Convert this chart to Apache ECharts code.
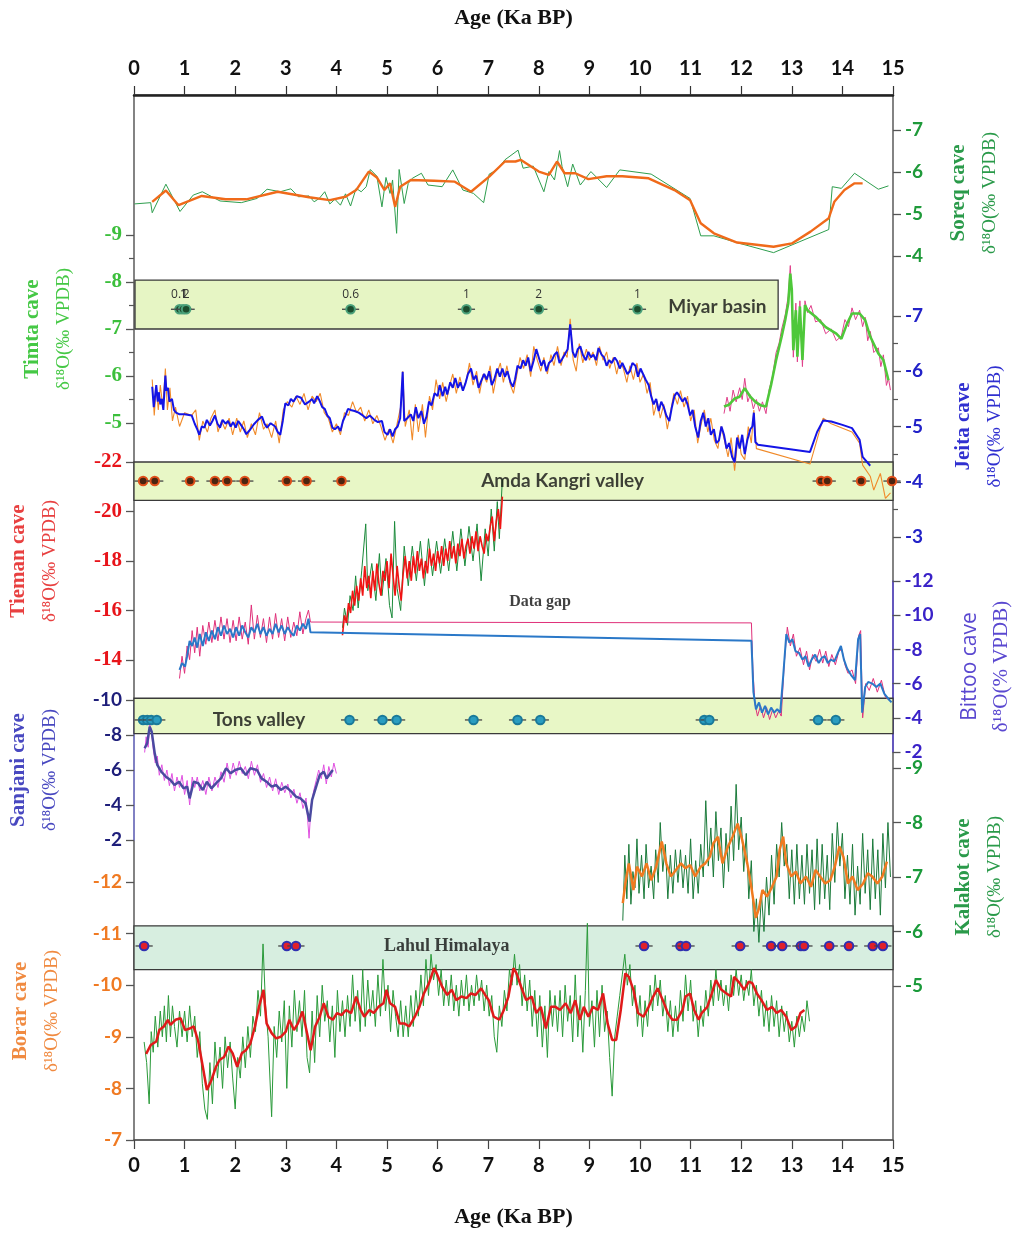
<!DOCTYPE html>
<html><head><meta charset="utf-8">
<script src="https://cdn.jsdelivr.net/npm/echarts@6/dist/echarts.min.js"></script>
<style>html,body{margin:0;padding:0;background:#fff}#c{width:1020px;height:1233px}</style>
</head><body><div id="c"></div>
<script>
// ---------------- DATA ----------------
const soreqRaw = [[0.01,-5.24],[0.33,-5.27],[0.36,-5.03],[0.63,-5.71],[0.91,-5.06],[1.17,-5.45],[1.35,-5.53],[1.70,-5.31],[2.12,-5.27],[2.43,-5.37],[2.63,-5.59],[2.89,-5.53],[3.10,-5.60],[3.25,-5.41],[3.46,-5.43],[3.56,-5.29],[3.66,-5.37],[3.77,-5.53],[3.87,-5.24],[3.97,-5.35],[4.08,-5.21],[4.18,-5.48],[4.28,-5.19],[4.39,-5.61],[4.49,-5.53],[4.59,-5.65],[4.67,-6.06],[4.80,-5.90],[4.90,-5.17],[4.98,-5.87],[5.06,-5.49],[5.11,-5.81],[5.19,-4.54],[5.24,-6.06],[5.34,-5.25],[5.42,-5.73],[5.50,-5.85],[5.68,-5.97],[5.81,-5.69],[6.09,-5.65],[6.30,-6.05],[6.50,-5.57],[6.71,-5.49],[6.91,-5.27],[7.02,-5.95],[7.17,-6.05],[7.33,-6.29],[7.59,-6.52],[7.69,-6.09],[7.89,-6.14],[8.10,-5.53],[8.20,-6.01],[8.31,-5.81],[8.41,-6.51],[8.46,-6.13],[8.57,-5.65],[8.67,-6.19],[8.82,-5.69],[9.03,-6.01],[9.34,-5.63],[9.60,-6.05],[10.22,-5.95],[10.99,-5.37],[11.20,-4.48],[11.46,-4.48],[11.97,-4.30],[12.64,-4.08],[13.73,-4.63],[13.80,-5.65],[13.98,-5.61],[14.24,-5.97],[14.71,-5.59],[14.91,-5.67]];
const soreqSmooth = [[0.36,-5.29],[0.63,-5.56],[0.88,-5.21],[1.34,-5.43],[1.81,-5.35],[2.22,-5.35],[2.84,-5.53],[3.46,-5.40],[3.87,-5.33],[4.18,-5.41],[4.39,-5.57],[4.64,-6.01],[4.80,-5.87],[4.95,-5.57],[5.06,-5.73],[5.16,-5.17],[5.26,-5.65],[5.47,-5.81],[5.93,-5.79],[6.34,-5.77],[6.66,-5.53],[7.02,-5.89],[7.33,-6.25],[7.54,-6.25],[7.64,-6.29],[8.00,-6.01],[8.20,-5.93],[8.36,-6.25],[8.51,-5.97],[8.72,-5.97],[8.98,-5.83],[9.34,-5.90],[9.65,-5.90],[10.17,-5.85],[10.68,-5.57],[10.99,-5.33],[11.20,-4.78],[11.46,-4.54],[11.92,-4.32],[12.64,-4.22],[13.00,-4.30],[13.37,-4.58],[13.73,-4.90],[13.84,-5.29],[14.04,-5.57],[14.24,-5.73],[14.40,-5.73]];

const timtaMain = [[11.66,-5.35],[11.76,-5.39],[11.87,-5.52],[11.97,-5.56],[12.07,-5.74],[12.18,-5.56],[12.28,-5.45],[12.38,-5.38],[12.49,-5.35],[12.59,-5.81],[12.69,-6.34],[12.80,-6.84],[12.87,-7.19],[12.93,-7.55],[12.97,-8.18],[13.00,-7.83],[13.03,-6.55],[13.08,-7.40],[13.11,-6.41],[13.16,-7.48],[13.21,-6.34],[13.26,-7.51],[13.31,-7.40],[13.47,-7.26],[13.67,-7.04],[13.88,-6.90],[13.98,-6.79],[14.09,-7.11],[14.19,-7.33],[14.34,-7.33],[14.45,-7.19],[14.55,-6.84],[14.71,-6.48],[14.81,-6.34],[14.91,-5.91]];
const timtaRaw = [[11.66,-5.2],[11.72,-5.55],[11.78,-5.25],[11.84,-5.7],[11.9,-5.45],[11.97,-5.75],[12.02,-5.5],[12.07,-5.95],[12.13,-5.45],[12.18,-5.6],[12.24,-5.3],[12.3,-5.5],[12.36,-5.25],[12.42,-5.45],[12.49,-5.2],[12.55,-5.7],[12.62,-6.0],[12.69,-6.5],[12.75,-6.7],[12.8,-7.0],[12.87,-7.3],[12.93,-7.7],[12.97,-8.35],[13.0,-7.7],[13.03,-6.4],[13.08,-7.55],[13.11,-6.3],[13.16,-7.6],[13.21,-6.2],[13.26,-7.6],[13.31,-7.35],[13.38,-7.5],[13.47,-7.15],[13.57,-7.2],[13.67,-6.9],[13.78,-7.0],[13.88,-6.75],[13.98,-6.85],[14.05,-7.2],[14.12,-7.05],[14.19,-7.45],[14.26,-7.2],[14.34,-7.4],[14.4,-7.05],[14.45,-7.25],[14.5,-6.75],[14.55,-6.95],[14.62,-6.5],[14.71,-6.6],[14.76,-6.2],[14.81,-6.45],[14.87,-5.8],[14.91,-5.95],[14.95,-5.7]];

const jeitaMain = [[0.36,-5.72],[0.39,-5.35],[0.41,-5.5],[0.44,-5.75],[0.47,-5.45],[0.49,-5.62],[0.52,-5.4],[0.55,-5.5],[0.58,-5.3],[0.62,-5.92],[0.64,-5.65],[0.67,-5.7],[0.7,-5.45],[0.75,-5.5],[0.79,-5.3],[0.83,-5.25],[0.9,-5.22],[1.0,-5.22],[1.14,-5.2],[1.2,-5.05],[1.25,-4.95],[1.29,-4.85],[1.34,-5.0],[1.39,-4.98],[1.44,-5.12],[1.5,-5.02],[1.55,-5.1],[1.6,-5.2],[1.65,-5.05],[1.7,-4.98],[1.75,-5.12],[1.81,-5.05],[1.86,-5.1],[1.91,-5.0],[1.96,-5.08],[2.01,-4.98],[2.06,-5.1],[2.12,-5.02],[2.17,-4.95],[2.22,-4.86],[2.3,-4.95],[2.37,-5.04],[2.45,-5.12],[2.53,-5.18],[2.58,-5.05],[2.63,-4.98],[2.7,-5.06],[2.79,-5.0],[2.84,-4.9],[2.89,-4.85],[2.94,-5.1],[2.99,-5.42],[3.05,-5.38],[3.1,-5.5],[3.15,-5.45],[3.22,-5.55],[3.3,-5.52],[3.38,-5.4],[3.46,-5.45],[3.52,-5.5],[3.56,-5.42],[3.62,-5.55],[3.66,-5.48],[3.72,-5.35],[3.77,-5.32],[3.82,-5.2],[3.87,-5.15],[3.92,-4.98],[3.97,-4.95],[4.03,-5.0],[4.08,-4.92],[4.13,-5.1],[4.18,-5.2],[4.23,-5.32],[4.28,-5.3],[4.36,-5.28],[4.44,-5.25],[4.52,-5.2],[4.59,-5.15],[4.66,-5.2],[4.75,-5.12],[4.82,-5.08],[4.9,-5.1],[4.95,-4.9],[5.01,-4.85],[5.06,-4.95],[5.11,-4.82],[5.16,-4.95],[5.21,-5.0],[5.26,-5.15],[5.31,-5.99],[5.34,-5.1],[5.4,-5.15],[5.47,-5.22],[5.52,-5.1],[5.57,-5.35],[5.62,-5.15],[5.68,-5.28],[5.73,-5.05],[5.78,-5.18],[5.83,-5.45],[5.88,-5.38],[5.94,-5.6],[6.0,-5.55],[6.04,-5.75],[6.1,-5.55],[6.15,-5.72],[6.19,-5.58],[6.25,-5.8],[6.3,-5.7],[6.35,-5.88],[6.4,-5.7],[6.45,-5.8],[6.5,-5.65],[6.55,-5.78],[6.6,-5.95],[6.66,-6.05],[6.71,-5.85],[6.76,-5.92],[6.81,-5.7],[6.86,-5.82],[6.92,-5.95],[6.97,-5.85],[7.02,-6.0],[7.07,-5.75],[7.12,-5.85],[7.18,-6.05],[7.23,-5.9],[7.28,-6.05],[7.33,-5.9],[7.38,-6.0],[7.44,-5.8],[7.49,-5.72],[7.53,-5.85],[7.58,-6.1],[7.64,-6.05],[7.69,-6.2],[7.74,-6.1],[7.79,-6.25],[7.84,-6.0],[7.9,-6.2],[7.95,-6.4],[8.0,-6.25],[8.05,-6.1],[8.1,-6.2],[8.15,-6.0],[8.2,-6.15],[8.26,-6.2],[8.31,-6.3],[8.36,-6.35],[8.41,-6.15],[8.46,-6.22],[8.51,-6.3],[8.57,-6.4],[8.62,-6.85],[8.67,-6.35],[8.72,-6.25],[8.77,-6.4],[8.82,-6.45],[8.87,-6.3],[8.93,-6.2],[8.98,-6.35],[9.03,-6.25],[9.08,-6.3],[9.13,-6.2],[9.18,-6.42],[9.24,-6.3],[9.29,-6.25],[9.34,-6.1],[9.39,-6.2],[9.44,-6.15],[9.5,-6.25],[9.55,-6.18],[9.6,-6.05],[9.65,-6.15],[9.7,-6.05],[9.75,-5.95],[9.8,-6.0],[9.85,-6.15],[9.91,-6.1],[9.96,-5.9],[10.01,-6.05],[10.06,-5.95],[10.11,-5.85],[10.17,-5.75],[10.22,-5.55],[10.27,-5.4],[10.32,-5.5],[10.37,-5.28],[10.42,-5.45],[10.47,-5.35],[10.52,-5.2],[10.58,-5.1],[10.63,-5.35],[10.68,-5.55],[10.73,-5.62],[10.78,-5.55],[10.84,-5.45],[10.89,-5.52],[10.94,-5.4],[10.99,-5.2],[11.04,-5.3],[11.09,-5.0],[11.15,-4.8],[11.2,-5.1],[11.25,-5.25],[11.3,-5.0],[11.35,-5.15],[11.4,-4.85],[11.46,-4.95],[11.51,-4.7],[11.56,-4.75],[11.61,-5.0],[11.66,-4.85],[11.71,-4.6],[11.76,-4.7],[11.82,-4.45],[11.87,-4.35],[11.92,-4.8],[11.97,-4.6],[12.02,-4.85],[12.07,-4.5],[12.12,-4.75],[12.18,-4.95],[12.22,-5.0],[12.25,-5.25],[12.28,-4.72],[12.33,-4.67],[13.36,-4.54],[13.5,-4.9],[13.62,-5.11],[13.78,-5.09],[14.0,-5.03],[14.19,-4.97],[14.34,-4.76],[14.40,-4.45],[14.55,-4.29]];
const jeitaRaw = [[0.36,-5.85],[0.40,-5.2],[0.44,-5.7],[0.48,-5.3],[0.52,-5.75],[0.57,-5.35],[0.62,-6.05],[0.66,-5.3],[0.71,-5.7],[0.76,-5.1],[0.82,-5.35],[0.9,-5.0],[1.0,-5.25],[1.14,-5.2],[1.22,-5.3],[1.29,-4.75],[1.36,-5.1],[1.45,-4.9],[1.52,-5.15],[1.6,-5.3],[1.66,-4.9],[1.73,-5.1],[1.8,-4.95],[1.88,-5.15],[1.95,-4.85],[2.03,-5.15],[2.1,-4.9],[2.17,-5.1],[2.24,-4.8],[2.32,-5.05],[2.4,-4.85],[2.48,-5.25],[2.56,-4.95],[2.63,-5.05],[2.72,-4.8],[2.8,-5.1],[2.87,-4.7],[2.95,-5.3],[3.03,-5.45],[3.12,-5.35],[3.2,-5.55],[3.28,-5.4],[3.36,-5.6],[3.44,-5.3],[3.52,-5.55],[3.6,-5.45],[3.68,-5.6],[3.76,-5.25],[3.84,-5.15],[3.92,-4.9],[4.0,-5.05],[4.08,-4.85],[4.16,-5.25],[4.24,-5.2],[4.32,-5.45],[4.4,-5.25],[4.48,-5.35],[4.56,-5.1],[4.64,-5.3],[4.72,-5.05],[4.8,-5.2],[4.88,-5.0],[4.96,-4.75],[5.04,-4.95],[5.12,-4.7],[5.2,-5.05],[5.28,-5.4],[5.31,-6.0],[5.36,-5.0],[5.44,-5.3],[5.5,-4.75],[5.56,-5.4],[5.62,-4.9],[5.7,-5.4],[5.76,-4.8],[5.84,-5.55],[5.9,-5.3],[5.97,-5.85],[6.04,-5.5],[6.1,-5.8],[6.17,-5.45],[6.24,-5.75],[6.3,-5.95],[6.37,-5.6],[6.44,-5.9],[6.5,-5.65],[6.57,-5.85],[6.63,-6.15],[6.7,-5.75],[6.77,-6.0],[6.83,-5.6],[6.9,-5.95],[6.97,-5.8],[7.04,-6.1],[7.1,-5.6],[7.17,-5.95],[7.24,-6.15],[7.3,-5.8],[7.37,-6.1],[7.44,-5.75],[7.5,-5.6],[7.57,-5.95],[7.63,-6.25],[7.7,-6.05],[7.77,-6.3],[7.84,-5.9],[7.9,-6.45],[7.97,-6.2],[8.04,-6.0],[8.1,-6.25],[8.17,-5.95],[8.24,-6.3],[8.3,-6.1],[8.37,-6.45],[8.44,-6.1],[8.5,-6.35],[8.56,-6.25],[8.62,-6.95],[8.68,-6.2],[8.74,-6.0],[8.8,-6.5],[8.87,-6.15],[8.94,-6.4],[9.0,-6.2],[9.07,-6.35],[9.14,-6.1],[9.2,-6.45],[9.27,-6.2],[9.34,-6.35],[9.4,-6.05],[9.47,-6.25],[9.54,-5.95],[9.6,-6.2],[9.67,-6.05],[9.74,-5.8],[9.8,-6.1],[9.87,-5.85],[9.94,-6.15],[10.0,-5.8],[10.07,-5.95],[10.14,-5.6],[10.2,-5.8],[10.27,-5.2],[10.34,-5.45],[10.4,-5.15],[10.47,-5.4],[10.54,-4.95],[10.6,-5.25],[10.67,-5.6],[10.74,-5.4],[10.8,-5.65],[10.87,-5.35],[10.94,-5.55],[11.0,-5.1],[11.07,-5.3],[11.14,-4.7],[11.2,-5.0],[11.27,-5.3],[11.34,-4.9],[11.4,-5.15],[11.47,-4.75],[11.54,-4.6],[11.6,-5.0],[11.67,-4.75],[11.74,-4.45],[11.8,-4.8],[11.87,-4.2],[11.94,-4.85],[12.0,-4.5],[12.07,-4.4],[12.14,-5.0],[12.2,-4.7],[12.25,-5.3],[12.3,-4.6],[13.36,-4.32],[13.62,-5.15],[13.78,-5.05],[14.19,-4.9],[14.34,-4.7],[14.4,-4.3],[14.55,-4.1],[14.62,-3.85],[14.75,-4.15],[14.85,-3.7],[14.95,-3.8]];

const tiemanMain = [[4.12,-15.0],[4.16,-15.8],[4.2,-15.5],[4.24,-16.3],[4.28,-15.9],[4.32,-16.8],[4.36,-16.2],[4.4,-17.0],[4.44,-16.4],[4.48,-17.3],[4.52,-16.6],[4.56,-17.8],[4.6,-16.9],[4.64,-17.4],[4.68,-16.5],[4.72,-17.6],[4.76,-16.8],[4.8,-17.9],[4.84,-17.1],[4.88,-16.6],[4.92,-17.6],[4.96,-17.2],[5.0,-18.0],[5.04,-16.9],[5.08,-18.3],[5.12,-17.4],[5.16,-16.6],[5.2,-17.8],[5.24,-17.0],[5.28,-16.4],[5.32,-17.5],[5.36,-18.2],[5.4,-17.3],[5.44,-18.0],[5.48,-17.2],[5.52,-18.2],[5.56,-17.5],[5.6,-18.4],[5.64,-17.6],[5.68,-18.1],[5.72,-17.3],[5.76,-18.0],[5.8,-17.5],[5.84,-18.5],[5.88,-17.8],[5.92,-18.3],[5.96,-17.6],[6.0,-18.4],[6.04,-17.9],[6.08,-18.6],[6.12,-17.8],[6.16,-18.5],[6.2,-18.0],[6.24,-18.8],[6.28,-18.1],[6.32,-18.6],[6.36,-17.9],[6.4,-18.7],[6.44,-18.2],[6.48,-18.9],[6.52,-18.1],[6.56,-18.6],[6.6,-18.9],[6.64,-18.3],[6.68,-19.0],[6.72,-18.5],[6.76,-19.2],[6.8,-18.4],[6.84,-19.0],[6.88,-18.6],[6.92,-18.3],[6.96,-19.1],[7.0,-18.8],[7.04,-19.4],[7.08,-19.8],[7.12,-18.8],[7.16,-19.6],[7.2,-20.1],[7.24,-19.3],[7.28,-20.6]];
const tiemanRaw = [[4.12,-15.3],[4.16,-16.1],[4.22,-15.4],[4.27,-16.6],[4.33,-16.0],[4.38,-17.4],[4.43,-16.1],[4.5,-17.6],[4.58,-19.5],[4.62,-16.8],[4.7,-17.9],[4.78,-16.4],[4.85,-18.3],[4.9,-16.6],[4.98,-18.1],[5.05,-16.2],[5.1,-15.7],[5.15,-19.6],[5.2,-16.9],[5.27,-16.0],[5.34,-18.6],[5.42,-17.0],[5.5,-18.6],[5.58,-17.2],[5.66,-18.8],[5.74,-17.0],[5.82,-18.9],[5.9,-17.4],[5.98,-18.8],[6.06,-17.5],[6.14,-18.9],[6.22,-17.6],[6.3,-19.2],[6.38,-17.6],[6.46,-19.3],[6.54,-17.8],[6.62,-19.4],[6.7,-18.0],[6.78,-19.5],[6.86,-17.2],[6.94,-19.3],[7.0,-18.2],[7.06,-20.1],[7.12,-18.4],[7.18,-20.4],[7.22,-18.9],[7.28,-21.3]];

const bittooMain = [[0.90,-6.8],[0.95,-7.2],[1.01,-7.0],[1.05,-7.6],[1.1,-8.5],[1.15,-8.2],[1.2,-8.7],[1.25,-8.1],[1.3,-8.9],[1.36,-8.2],[1.42,-9.0],[1.48,-8.5],[1.54,-9.1],[1.6,-8.6],[1.66,-9.3],[1.72,-8.8],[1.78,-9.4],[1.84,-8.9],[1.9,-9.2],[1.96,-8.7],[2.02,-9.3],[2.08,-8.8],[2.14,-9.4],[2.2,-9.0],[2.26,-8.7],[2.32,-9.3],[2.38,-9.0],[2.44,-9.5],[2.5,-8.9],[2.56,-9.3],[2.62,-8.8],[2.68,-9.2],[2.74,-8.9],[2.8,-9.5],[2.86,-9.0],[2.92,-9.4],[2.98,-8.9],[3.04,-9.3],[3.1,-9.0],[3.16,-8.8],[3.22,-9.4],[3.28,-9.1],[3.34,-9.5],[3.4,-9.2],[3.45,-9.8],[3.49,-9.0],[12.21,-8.5],[12.25,-5.5],[12.3,-4.5],[12.36,-4.9],[12.42,-4.3],[12.48,-4.7],[12.54,-4.2],[12.6,-4.6],[12.66,-4.3],[12.72,-4.5],[12.78,-4.3],[12.84,-6.5],[12.9,-8.9],[12.96,-8.4],[13.02,-8.6],[13.08,-7.9],[13.15,-7.8],[13.22,-7.4],[13.28,-7.6],[13.34,-7.0],[13.4,-7.4],[13.47,-7.7],[13.54,-7.2],[13.6,-7.5],[13.66,-7.6],[13.72,-7.2],[13.78,-7.4],[13.85,-7.3],[13.92,-7.8],[13.98,-8.2],[14.04,-7.4],[14.1,-6.9],[14.18,-6.5],[14.26,-6.2],[14.32,-8.6],[14.36,-8.9],[14.4,-4.3],[14.46,-5.8],[14.52,-6.1],[14.6,-6.0],[14.68,-5.8],[14.76,-6.0],[14.84,-5.4],[14.92,-5.1],[14.98,-4.9]];
const bittooRaw = [[0.90,-6.3],[0.95,-7.6],[1.0,-6.6],[1.05,-8.2],[1.1,-7.4],[1.15,-9.1],[1.2,-7.8],[1.25,-9.3],[1.3,-7.6],[1.36,-9.4],[1.42,-8.3],[1.48,-9.6],[1.54,-8.4],[1.6,-9.7],[1.66,-8.5],[1.72,-9.9],[1.78,-8.6],[1.84,-9.8],[1.9,-8.4],[1.96,-9.7],[2.02,-8.5],[2.08,-9.9],[2.14,-8.6],[2.2,-9.6],[2.26,-8.3],[2.32,-10.6],[2.38,-8.6],[2.44,-10.0],[2.5,-8.7],[2.56,-9.8],[2.62,-8.4],[2.68,-9.9],[2.74,-8.6],[2.8,-10.1],[2.86,-8.7],[2.92,-9.8],[2.98,-8.5],[3.04,-9.9],[3.1,-8.7],[3.16,-9.6],[3.22,-8.8],[3.28,-10.2],[3.34,-8.9],[3.4,-9.8],[3.45,-10.3],[3.49,-9.6],[12.21,-9.55],[12.24,-6.8],[12.28,-4.8],[12.33,-4.1],[12.39,-4.7],[12.45,-4.0],[12.51,-4.6],[12.57,-3.9],[12.63,-4.5],[12.69,-4.0],[12.75,-4.4],[12.8,-4.1],[12.86,-7.2],[12.92,-9.3],[12.98,-8.2],[13.04,-8.9],[13.1,-7.6],[13.17,-8.1],[13.24,-7.1],[13.3,-7.9],[13.36,-6.8],[13.42,-7.7],[13.49,-7.3],[13.56,-8.0],[13.62,-7.2],[13.68,-7.9],[13.74,-7.0],[13.8,-7.7],[13.87,-7.1],[13.94,-7.9],[14.0,-8.0],[14.06,-7.1],[14.12,-6.6],[14.2,-6.8],[14.27,-6.0],[14.33,-8.8],[14.37,-9.1],[14.41,-4.0],[14.47,-6.0],[14.54,-5.6],[14.62,-6.3],[14.7,-5.5],[14.78,-6.2],[14.86,-5.2],[14.95,-5.0]];

const sanjaniMain = [[0.21,-7.24],[0.26,-7.52],[0.31,-8.48],[0.35,-8.19],[0.41,-6.95],[0.46,-6.29],[0.54,-5.90],[0.63,-5.62],[0.72,-5.43],[0.80,-5.14],[0.89,-5.33],[0.98,-4.95],[1.05,-5.05],[1.10,-4.38],[1.18,-5.33],[1.27,-5.24],[1.36,-4.86],[1.44,-5.33],[1.53,-4.95],[1.62,-5.24],[1.72,-5.52],[1.82,-6.10],[1.91,-5.81],[2.00,-6.00],[2.11,-6.10],[2.21,-5.71],[2.30,-6.10],[2.43,-6.00],[2.52,-5.52],[2.62,-5.33],[2.72,-5.05],[2.81,-5.14],[2.90,-4.86],[3.00,-5.05],[3.11,-4.76],[3.20,-4.48],[3.29,-4.38],[3.39,-4.10],[3.47,-3.05],[3.52,-4.29],[3.60,-5.05],[3.67,-5.71],[3.75,-5.90],[3.81,-5.52],[3.88,-5.81],[3.93,-6.00]];
const sanjaniRaw = [[0.21,-7.0],[0.24,-7.9],[0.28,-7.3],[0.31,-8.6],[0.34,-8.3],[0.38,-7.2],[0.42,-6.4],[0.46,-6.8],[0.5,-5.7],[0.55,-6.3],[0.6,-5.4],[0.65,-6.0],[0.7,-5.1],[0.75,-5.8],[0.8,-4.8],[0.85,-5.6],[0.9,-5.0],[0.95,-5.7],[1.0,-4.6],[1.05,-5.4],[1.1,-4.0],[1.15,-5.6],[1.2,-5.0],[1.25,-5.6],[1.3,-4.8],[1.36,-5.4],[1.42,-4.6],[1.48,-5.6],[1.54,-4.8],[1.6,-5.6],[1.66,-5.0],[1.72,-5.9],[1.78,-5.3],[1.84,-6.4],[1.9,-5.5],[1.96,-6.4],[2.02,-5.7],[2.08,-6.5],[2.14,-5.8],[2.2,-6.2],[2.26,-5.5],[2.32,-6.5],[2.38,-5.7],[2.44,-6.3],[2.5,-5.3],[2.56,-5.8],[2.62,-5.0],[2.68,-5.6],[2.74,-4.8],[2.8,-5.5],[2.86,-4.6],[2.92,-5.3],[2.98,-4.7],[3.04,-5.2],[3.1,-4.4],[3.16,-4.9],[3.22,-4.1],[3.28,-4.7],[3.34,-3.8],[3.4,-4.4],[3.46,-2.1],[3.5,-4.0],[3.55,-4.8],[3.6,-5.4],[3.65,-6.0],[3.7,-5.5],[3.75,-6.3],[3.8,-5.2],[3.85,-6.2],[3.9,-5.6],[3.95,-6.4],[4.0,-5.8]];

const kalakotMain = [[9.66,-6.52],[9.71,-6.88],[9.78,-7.25],[9.87,-6.76],[9.94,-7.19],[10.04,-7.01],[10.13,-7.25],[10.22,-6.94],[10.32,-7.19],[10.43,-7.65],[10.52,-7.25],[10.61,-7.01],[10.71,-7.13],[10.81,-7.25],[10.90,-7.16],[10.99,-7.22],[11.09,-7.01],[11.20,-7.19],[11.29,-7.25],[11.38,-7.37],[11.45,-7.62],[11.54,-7.74],[11.63,-7.25],[11.74,-7.56],[11.83,-7.74],[11.93,-7.98],[12.02,-7.68],[12.12,-7.25],[12.21,-6.76],[12.29,-6.25],[12.35,-6.42],[12.42,-6.76],[12.51,-6.64],[12.61,-6.82],[12.70,-7.01],[12.76,-7.50],[12.83,-7.74],[12.89,-7.25],[12.99,-7.01],[13.08,-7.10],[13.17,-6.88],[13.28,-7.01],[13.38,-6.82],[13.47,-7.13],[13.56,-7.01],[13.66,-6.88],[13.76,-6.94],[13.85,-7.19],[13.94,-7.56],[14.02,-7.37],[14.11,-6.88],[14.20,-7.01],[14.30,-6.76],[14.41,-6.88],[14.50,-7.07],[14.59,-7.01],[14.69,-6.88],[14.79,-7.01],[14.88,-7.28]];
const kalakotRaw = [[9.66,-6.2],[9.7,-7.4],[9.74,-6.6],[9.78,-7.6],[9.82,-6.5],[9.86,-7.1],[9.9,-6.8],[9.94,-7.7],[9.98,-6.7],[10.03,-7.4],[10.08,-6.6],[10.12,-7.6],[10.17,-6.8],[10.22,-7.2],[10.27,-6.6],[10.31,-7.5],[10.36,-6.9],[10.4,-8.0],[10.45,-7.1],[10.5,-7.6],[10.55,-6.6],[10.6,-7.4],[10.65,-6.7],[10.7,-7.5],[10.75,-6.9],[10.8,-7.5],[10.85,-6.8],[10.9,-7.4],[10.95,-6.7],[11.0,-7.7],[11.05,-6.6],[11.1,-7.3],[11.15,-6.7],[11.2,-7.6],[11.25,-7.0],[11.3,-8.4],[11.35,-7.2],[11.4,-7.9],[11.45,-7.0],[11.5,-8.2],[11.55,-7.3],[11.6,-7.9],[11.65,-6.8],[11.7,-7.8],[11.75,-7.1],[11.8,-8.3],[11.85,-7.3],[11.9,-8.7],[11.95,-7.5],[12.0,-8.1],[12.05,-7.1],[12.1,-7.8],[12.15,-6.6],[12.2,-7.3],[12.25,-6.0],[12.3,-6.6],[12.35,-5.8],[12.4,-6.7],[12.45,-6.0],[12.5,-7.0],[12.55,-6.3],[12.6,-7.4],[12.65,-6.5],[12.7,-7.6],[12.75,-7.0],[12.8,-8.0],[12.85,-7.2],[12.9,-7.6],[12.95,-6.6],[13.0,-7.5],[13.05,-6.5],[13.1,-7.6],[13.15,-6.6],[13.2,-7.4],[13.25,-6.5],[13.3,-7.6],[13.35,-6.7],[13.4,-7.5],[13.45,-6.4],[13.5,-7.7],[13.55,-6.5],[13.6,-7.6],[13.65,-6.6],[13.7,-7.4],[13.75,-6.4],[13.8,-7.8],[13.85,-6.9],[13.9,-8.0],[13.95,-7.2],[14.0,-7.8],[14.05,-6.6],[14.1,-7.4],[14.15,-6.5],[14.2,-7.6],[14.25,-6.3],[14.3,-7.2],[14.35,-6.5],[14.4,-7.8],[14.45,-6.7],[14.5,-7.5],[14.55,-6.4],[14.6,-7.7],[14.65,-6.6],[14.7,-7.5],[14.75,-6.3],[14.8,-7.8],[14.85,-6.8],[14.9,-8.0],[14.95,-7.0]];

const borarMain = [[0.24,-8.67],[0.33,-8.84],[0.44,-8.91],[0.50,-9.13],[0.59,-9.20],[0.67,-9.33],[0.72,-9.23],[0.82,-9.33],[0.92,-9.36],[1.01,-9.13],[1.10,-9.16],[1.18,-9.20],[1.27,-8.91],[1.36,-8.42],[1.44,-7.97],[1.53,-8.16],[1.62,-8.42],[1.69,-8.55],[1.78,-8.61],[1.87,-8.81],[1.95,-8.68],[2.04,-8.42],[2.13,-8.68],[2.21,-8.74],[2.30,-8.87],[2.39,-9.20],[2.47,-9.58],[2.56,-9.91],[2.62,-9.26],[2.72,-9.07],[2.81,-8.97],[2.90,-9.00],[3.00,-9.10],[3.07,-9.33],[3.16,-9.13],[3.24,-9.26],[3.33,-9.49],[3.42,-9.07],[3.49,-8.74],[3.58,-9.20],[3.67,-9.39],[3.75,-9.65],[3.84,-9.39],[3.93,-9.33],[4.01,-9.46],[4.10,-9.42],[4.19,-9.52],[4.29,-9.46],[4.39,-9.78],[4.48,-9.52],[4.55,-9.39],[4.65,-9.52],[4.74,-9.46],[4.83,-9.58],[4.93,-9.65],[4.99,-9.91],[5.06,-9.65],[5.16,-9.58],[5.25,-9.26],[5.34,-9.26],[5.44,-9.20],[5.55,-9.39],[5.64,-9.58],[5.73,-9.84],[5.83,-10.04],[5.93,-10.33],[5.98,-10.23],[6.09,-9.97],[6.19,-9.81],[6.28,-9.91],[6.37,-9.71],[6.47,-9.78],[6.57,-9.75],[6.66,-9.84],[6.75,-9.81],[6.86,-9.94],[6.96,-9.78],[7.01,-9.71],[7.11,-9.39],[7.22,-9.33],[7.31,-9.52],[7.40,-9.78],[7.50,-10.33],[7.56,-10.23],[7.65,-9.97],[7.75,-9.71],[7.86,-9.78],[7.95,-9.46],[8.04,-9.58],[8.14,-9.16],[8.24,-9.58],[8.33,-9.58],[8.42,-9.52],[8.53,-9.65],[8.63,-9.46],[8.72,-9.71],[8.81,-9.33],[8.89,-9.58],[8.98,-9.39],[9.07,-9.58],[9.17,-9.52],[9.27,-9.84],[9.36,-9.26],[9.45,-8.94],[9.53,-8.94],[9.62,-9.52],[9.71,-10.23],[9.78,-10.16],[9.87,-9.91],[9.96,-9.46],[10.07,-9.39],[10.17,-9.58],[10.26,-9.78],[10.35,-9.94],[10.45,-9.71],[10.55,-9.46],[10.64,-9.33],[10.73,-9.33],[10.84,-9.52],[10.90,-9.78],[10.99,-9.84],[11.07,-9.52],[11.16,-9.33],[11.22,-9.46],[11.33,-9.58],[11.42,-9.84],[11.50,-10.10],[11.61,-9.91],[11.71,-9.84],[11.80,-9.78],[11.86,-10.16],[11.97,-10.04],[12.06,-9.91],[12.15,-10.07],[12.22,-10.04],[12.31,-9.84],[12.40,-9.71],[12.51,-9.52],[12.61,-9.58],[12.70,-9.46],[12.79,-9.52],[12.89,-9.39],[12.99,-9.13],[13.08,-9.20],[13.17,-9.46],[13.25,-9.52]];
const borarRaw = [[0.2,-8.9],[0.25,-8.5],[0.3,-7.7],[0.34,-9.1],[0.38,-8.7],[0.42,-9.4],[0.47,-8.8],[0.52,-9.5],[0.56,-9.0],[0.6,-9.6],[0.64,-8.9],[0.68,-9.8],[0.72,-9.0],[0.76,-9.6],[0.8,-9.2],[0.85,-8.8],[0.9,-9.5],[0.95,-9.0],[1.0,-9.5],[1.05,-8.9],[1.1,-9.6],[1.15,-9.0],[1.2,-9.4],[1.25,-8.6],[1.3,-9.1],[1.35,-8.1],[1.4,-7.6],[1.45,-7.4],[1.5,-8.5],[1.55,-7.7],[1.6,-8.9],[1.65,-8.2],[1.7,-8.8],[1.75,-8.0],[1.8,-9.0],[1.85,-8.4],[1.9,-8.9],[1.95,-8.2],[2.0,-7.6],[2.05,-8.6],[2.1,-8.2],[2.15,-9.0],[2.2,-8.4],[2.25,-9.2],[2.3,-8.6],[2.35,-9.4],[2.4,-9.1],[2.45,-9.9],[2.5,-9.4],[2.55,-10.8],[2.6,-9.6],[2.65,-9.0],[2.72,-7.45],[2.77,-9.2],[2.82,-8.6],[2.87,-9.5],[2.92,-8.9],[2.97,-9.7],[3.02,-8.0],[3.07,-9.6],[3.12,-8.8],[3.17,-9.9],[3.22,-9.1],[3.27,-9.7],[3.32,-9.0],[3.37,-9.9],[3.42,-8.6],[3.47,-8.3],[3.52,-9.5],[3.57,-8.5],[3.62,-9.8],[3.67,-9.0],[3.72,-10.0],[3.77,-9.3],[3.82,-9.7],[3.87,-8.9],[3.92,-9.6],[3.97,-8.6],[4.02,-9.9],[4.07,-9.1],[4.12,-9.7],[4.17,-9.0],[4.22,-9.8],[4.27,-9.2],[4.32,-10.2],[4.37,-9.3],[4.42,-9.9],[4.47,-9.1],[4.52,-10.3],[4.57,-9.2],[4.62,-10.1],[4.67,-9.4],[4.72,-9.9],[4.77,-9.2],[4.82,-10.2],[4.87,-9.4],[4.92,-10.5],[4.97,-9.5],[5.02,-10.0],[5.07,-9.1],[5.12,-9.9],[5.17,-9.4],[5.22,-9.0],[5.27,-9.7],[5.32,-9.0],[5.37,-9.6],[5.42,-9.0],[5.47,-9.8],[5.52,-9.2],[5.57,-9.9],[5.62,-9.4],[5.67,-10.2],[5.72,-9.6],[5.77,-10.5],[5.82,-9.8],[5.87,-10.6],[5.92,-10.1],[5.97,-10.4],[6.02,-9.8],[6.07,-10.3],[6.12,-9.6],[6.17,-10.1],[6.22,-9.6],[6.27,-10.2],[6.32,-9.5],[6.37,-10.0],[6.42,-9.4],[6.47,-10.1],[6.52,-9.6],[6.57,-10.2],[6.62,-9.5],[6.67,-10.0],[6.72,-9.6],[6.77,-10.2],[6.82,-9.7],[6.87,-10.1],[6.92,-9.5],[6.97,-10.0],[7.02,-9.4],[7.07,-9.8],[7.12,-9.0],[7.17,-8.7],[7.22,-9.6],[7.27,-9.2],[7.32,-9.9],[7.37,-9.5],[7.42,-10.3],[7.47,-10.0],[7.52,-10.6],[7.57,-10.0],[7.62,-10.4],[7.67,-9.6],[7.72,-10.2],[7.77,-9.5],[7.82,-10.1],[7.87,-9.2],[7.92,-9.9],[7.97,-9.0],[8.02,-9.8],[8.07,-8.8],[8.12,-9.6],[8.17,-8.6],[8.22,-9.9],[8.27,-9.2],[8.32,-9.8],[8.37,-9.1],[8.42,-9.9],[8.47,-9.0],[8.52,-10.0],[8.57,-9.3],[8.62,-9.8],[8.67,-8.9],[8.72,-10.2],[8.77,-9.0],[8.82,-9.8],[8.87,-8.7],[8.92,-9.9],[8.96,-11.2],[9.0,-9.2],[9.05,-9.7],[9.1,-8.8],[9.15,-9.9],[9.2,-9.0],[9.25,-10.0],[9.3,-9.1],[9.35,-9.5],[9.4,-8.6],[9.45,-7.85],[9.5,-9.0],[9.55,-9.4],[9.6,-9.8],[9.65,-10.2],[9.7,-10.6],[9.75,-10.0],[9.8,-10.4],[9.85,-9.6],[9.9,-10.0],[9.95,-9.2],[10.0,-9.8],[10.05,-9.0],[10.1,-9.7],[10.15,-9.2],[10.2,-10.0],[10.25,-9.5],[10.3,-10.2],[10.35,-9.6],[10.4,-10.1],[10.45,-9.4],[10.5,-9.8],[10.55,-9.1],[10.6,-9.7],[10.65,-9.0],[10.7,-9.6],[10.75,-9.1],[10.8,-9.9],[10.85,-9.3],[10.9,-10.2],[10.95,-9.5],[11.0,-10.1],[11.05,-9.3],[11.1,-9.7],[11.15,-9.0],[11.2,-9.6],[11.25,-9.2],[11.3,-9.9],[11.35,-9.4],[11.4,-10.1],[11.45,-9.6],[11.5,-10.3],[11.55,-9.7],[11.6,-10.1],[11.65,-9.6],[11.7,-10.0],[11.75,-9.5],[11.8,-10.2],[11.85,-9.8],[11.9,-10.3],[11.95,-9.8],[12.0,-10.2],[12.05,-9.7],[12.1,-10.1],[12.15,-9.8],[12.2,-10.3],[12.25,-9.6],[12.3,-10.0],[12.35,-9.4],[12.4,-9.9],[12.45,-9.2],[12.5,-9.7],[12.55,-9.1],[12.6,-9.8],[12.65,-9.2],[12.7,-9.7],[12.75,-9.0],[12.8,-9.6],[12.85,-9.1],[12.9,-9.5],[12.95,-8.9],[13.0,-9.3],[13.05,-8.8],[13.1,-9.4],[13.15,-9.0],[13.2,-9.4],[13.25,-9.1],[13.3,-9.7],[13.35,-9.3]];

// dated sites (ages, Ka BP)
const miyarAges = [0.9, 0.97, 1.03, 4.28, 6.57, 8.0, 9.95];
const miyarLabels = ['0.1', '1', '2', '0.6', '1', '2', '1'];
const amdaAges = [0.18, 0.41, 1.11, 1.60, 1.84, 2.19, 3.02, 3.41, 4.10, 13.58, 13.70, 14.37, 14.98];
const tonsAges = [0.18, 0.26, 0.34, 0.45, 4.26, 4.91, 5.19, 6.71, 7.58, 8.03, 11.27, 11.37, 13.52, 13.87];
const lahulAges = [0.2, 3.02, 3.2, 10.08, 10.8, 10.91, 11.98, 12.59, 12.81, 13.18, 13.24, 13.74, 14.13, 14.6, 14.8];

// band extents [age0, value0, age1, value1] in each panel's own units
const miyarBand = [0.02, -8.04, 12.73, -7.0];
const amdaBand = [0, -22.0, 15, -20.45];
const tonsBand = [0, -10.1, 15, -8.08];
const lahulBand = [0, -11.15, 15, -10.3];
</script>
<script>
const SANS = 'Lato', SERIF = 'Liberation Serif';
const chart = echarts.init(document.getElementById('c'), null, {renderer:'canvas'});
const LEFT = 134, RIGHT = 127;

const P = [
  {top:130, h:126, min:-7, max:-4, iv:1, side:'right', c:'#1f9a3a', c2:'#2a9a4a', font:SANS, nm:'Soreq cave', d:'δ¹⁸O(‰ VPDB)', gap:50, nameFont:SERIF},
  {top:235, h:188, min:-9, max:-5, iv:1, side:'left', c:'#3cbf3c', c2:'#45c845', font:SERIF, nm:'Timta cave', d:'δ¹⁸O(‰ VPDB)', gap:55, minor:true, nameFont:SERIF},
  {top:316, h:221, min:-7, max:-3, iv:1, side:'right', c:'#2222c8', c2:'#3030d0', font:SANS, nm:'Jeita cave', d:'δ¹⁸O(‰ VPDB)', gap:55, minor:true, nameFont:SERIF},
  {top:462, h:198, min:-22, max:-14, iv:2, side:'left', c:'#e8141a', c2:'#e84040', font:SERIF, nm:'Tieman cave', d:'δ¹⁸O(‰ VPDB)', gap:69, nameFont:SERIF},
  {top:581, h:171, min:-12, max:-2, iv:2, side:'right', c:'#3a22c8', c2:'#5a48d0', font:SANS, nm:'Bittoo cave', d:'δ¹⁸O(% VPDB)', gap:62, line:'#5a48d0', nameFont:'Open Sans', nameNormal:true},
  {top:700, h:140, min:-10, max:-2, iv:2, side:'left', c:'#1e1e7a', c2:'#4848c0', font:SANS, nm:'Sanjani cave', d:'δ¹⁸O(‰ VPDB)', gap:69, nameFont:SERIF, line:'#8080d8'},
  {top:768, h:218, min:-9, max:-5, iv:1, side:'right', c:'#1a9a3a', c2:'#2a9a4a', font:SANS, nm:'Kalakot cave', d:'δ¹⁸O(‰ VPDB)', gap:55, nameFont:SERIF},
  {top:882, h:258, min:-12, max:-7, iv:1, side:'left', c:'#f07a22', c2:'#f08a40', font:SANS, nm:'Borar cave', d:'δ¹⁸O(‰ VPDB)', gap:67, nameFont:SERIF}
];

const grids = [{left:LEFT, right:RIGHT, top:95, bottom:93, show:true, borderColor:'#333', borderWidth:1.2, backgroundColor:'rgba(0,0,0,0)'}];
const xAxes = [
  {gridIndex:0, type:'value', position:'top', min:0, max:15, interval:1,
   axisLine:{show:true, onZero:false, lineStyle:{color:'#222', width:2.5}}, axisTick:{show:true, length:9, lineStyle:{color:'#333', width:1.2}},
   splitLine:{show:false}, axisLabel:{color:'#111', fontFamily:SANS, fontWeight:'bold', fontSize:20, margin:16},
   name:'Age (Ka BP)', nameLocation:'middle', nameGap:66, nameTextStyle:{fontFamily:SERIF, fontWeight:'bold', fontSize:22, color:'#111'}},
  {gridIndex:0, type:'value', position:'bottom', min:0, max:15, interval:1,
   axisLine:{show:true, onZero:false, lineStyle:{color:'#555', width:1.6}}, axisTick:{show:true, length:9, lineStyle:{color:'#444', width:1.2}},
   splitLine:{show:false}, axisLabel:{color:'#111', fontFamily:SANS, fontWeight:'bold', fontSize:20, margin:16},
   name:'Age (Ka BP)', nameLocation:'middle', nameGap:66, nameTextStyle:{fontFamily:SERIF, fontWeight:'bold', fontSize:22, color:'#111'}}
];
const yAxes = [{gridIndex:0, type:'value', show:false, min:0, max:1, axisLine:{onZero:false}}];

P.forEach((p, i) => {
  const gi = i + 1;
  grids.push({left:LEFT, right:RIGHT, top:p.top, height:p.h, show:false});
  xAxes.push({gridIndex:gi, type:'value', min:0, max:15, show:false, axisLine:{onZero:false}});
  yAxes.push({
    gridIndex:gi, type:'value', min:p.min, max:p.max, interval:p.iv, inverse:true, position:p.side,
    axisLine:{show:!!p.line, onZero:false, lineStyle:{color:p.line || '#333', width:1.5}},
    axisTick:{show:true, length:8, lineStyle:{color:'#555', width:1.3}},
    minorTick:{show:!!p.minor, splitNumber:2, length:5, lineStyle:{color:'#555', width:1.2}},
    splitLine:{show:false},
    axisLabel:{color:p.c, fontFamily:p.font, fontWeight:'bold', fontSize:p.font===SERIF?21:19, margin:12},
    name:'{a|' + p.nm + '}\n{b|' + p.d + '}', nameLocation:'middle', nameRotate:90, nameGap:p.gap,
    nameTextStyle:{rich:{
      a:{fontFamily:p.nameFont, fontWeight:p.nameNormal?'normal':'bold', fontSize:21, color:p.c2, lineHeight:32, align:'center'},
      b:{fontFamily:SERIF, fontWeight:'normal', fontSize:p.nameNormal?21:19, color:p.c2, lineHeight:30, align:'center'}
    }}
  });
});

// panel p (1..8) -> x axis index p+1, y axis index p
function ln(p, data, color, w, z) {
  return {type:'line', xAxisIndex:p+1, yAxisIndex:p, data:data, symbol:'none', showSymbol:false,
    lineStyle:{color:color, width:w}, z:z, silent:true, animation:false};
}
function band(p, b, fill) {
  return {type:'custom', xAxisIndex:p+1, yAxisIndex:p, z:1, clip:false, silent:true, data:[b],
    renderItem:function(params, api) {
      const a = api.coord([api.value(0), api.value(1)]);
      const c = api.coord([api.value(2), api.value(3)]);
      return {type:'rect', shape:{x:Math.min(a[0],c[0]), y:Math.min(a[1],c[1]), width:Math.abs(c[0]-a[0]), height:Math.abs(c[1]-a[1])},
        style:{fill:fill, stroke:'#3a3a3a', lineWidth:1.3}};
    }};
}
function dots(p, ages, yv, fill, stroke, labels) {
  return {type:'custom', xAxisIndex:p+1, yAxisIndex:p, z:8, clip:false, silent:true,
    data: ages.map(a => [a, yv]),
    renderItem:function(params, api) {
      const x = api.value(0), y = api.value(1);
      const c = api.coord([x, y]);
      const l = api.coord([x - 0.17, y]);
      const r = api.coord([x + 0.17, y]);
      const ch = [
        {type:'line', shape:{x1:l[0], y1:c[1], x2:r[0], y2:c[1]}, style:{stroke:'#444', lineWidth:1.3}},
        {type:'circle', shape:{cx:c[0], cy:c[1], r:4.3}, style:{fill:fill, stroke:stroke, lineWidth:2}}
      ];
      if (labels) ch.push({type:'text', x:c[0], y:c[1]-9, style:{text:labels[params.dataIndex], fill:'#333', font:'12px "Open Sans"', align:'center', verticalAlign:'bottom'}});
      return {type:'group', children:ch};
    }};
}
function txt(p, name, age, v, font, size, weight) {
  return {type:'scatter', xAxisIndex:p+1, yAxisIndex:p, z:9, silent:true, symbolSize:1,
    itemStyle:{color:'rgba(0,0,0,0)'}, data:[{name:name, value:[age, v]}],
    label:{show:true, position:'inside', formatter:'{b}', color:'#111', fontFamily:font, fontSize:size, fontWeight:weight}};
}

const series = [
  band(2, miyarBand, '#e6f5c4'),
  band(4, amdaBand, '#e8f7c6'),
  band(6, tonsBand, '#e8f7c6'),
  band(8, lahulBand, '#d7eee0'),
  ln(1, soreqRaw, '#2e9e4e', 1, 3),
  ln(1, soreqSmooth, '#f06a1a', 2.4, 4),
  ln(2, timtaRaw, '#e0408a', 1, 3),
  ln(2, timtaMain, '#4ec83a', 2.6, 4),
  ln(3, jeitaRaw, '#f08a2a', 1.1, 3),
  ln(3, jeitaMain, '#1414e6', 2, 4),
  ln(4, tiemanRaw, '#1a8a3a', 1, 3),
  ln(4, tiemanMain, '#f01414', 1.6, 4),
  ln(5, bittooRaw, '#e0307a', 1, 3),
  ln(5, bittooMain, '#2a78c8', 2, 4),
  ln(6, sanjaniRaw, '#e050e0', 1, 3),
  ln(6, sanjaniMain, '#4a4aa0', 2.5, 4),
  ln(7, kalakotRaw, '#1a7a3a', 1, 3),
  ln(7, kalakotMain, '#f07a20', 2.5, 4),
  ln(8, borarRaw, '#2a9a3a', 1, 3),
  ln(8, borarMain, '#e01a1a', 2.5, 4),
  dots(2, miyarAges, -7.42, '#1c4d2e', '#4aa07a', miyarLabels),
  dots(4, amdaAges, -21.23, '#4a2410', '#e0501a'),
  dots(6, tonsAges, -8.86, '#2a9dc0', '#1a7a9a'),
  dots(8, lahulAges, -10.76, '#e0202a', '#3030b0'),
  txt(2, 'Miyar basin', 11.53, -7.47, SANS, 19, 'bold'),
  txt(4, 'Amda Kangri valley', 8.47, -21.23, SANS, 19, 'bold'),
  txt(6, 'Tons valley', 2.47, -8.86, SANS, 19, 'bold'),
  txt(8, 'Lahul Himalaya', 6.18, -10.76, SERIF, 18, 'bold'),
  txt(5, 'Data gap', 8.03, -10.77, SERIF, 16, 'bold')
];

chart.setOption({animation:false, backgroundColor:'#fff', grid:grids, xAxis:xAxes, yAxis:yAxes, series:series});
</script>
</body></html>
